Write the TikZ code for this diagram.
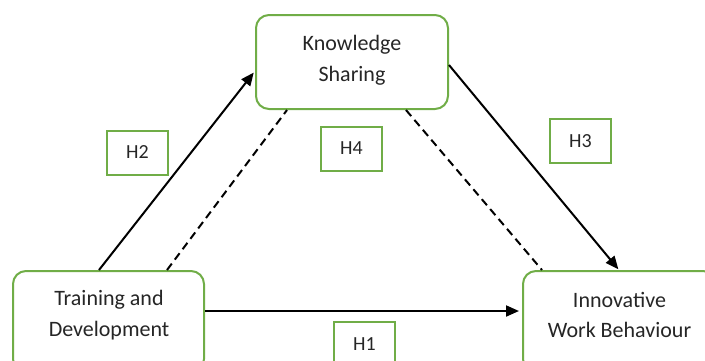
\documentclass[tikz,border=0pt]{standalone}
\usepackage{fontspec}
\setmainfont{Carlito}
\usetikzlibrary{arrows.meta}
\definecolor{boxgreen}{HTML}{70AD47}
\definecolor{txtgray}{HTML}{262626}
\begin{document}
\begin{tikzpicture}[x=1pt,y=-1pt,
  bigbox/.style={draw=boxgreen,line width=2pt,rounded corners=13pt,fill=white,inner sep=0pt},
  hbox/.style={draw=boxgreen,line width=2pt,minimum width=61pt,minimum height=44pt,inner sep=0pt,
    font=\fontsize{20}{24}\selectfont,text=txtgray},
  txt/.style={align=center,font=\fontsize{22}{30.5}\selectfont,text=txtgray,inner sep=0pt},
  arr/.style={line width=2pt,-{Triangle[length=13pt,width=11pt]}},
  dsh/.style={line width=2pt,dash pattern=on 8pt off 5pt}]
\useasboundingbox (0,0) rectangle (705,360);
\node[bigbox,minimum width=192pt,minimum height=94pt] (ks) at (352,62) {};
\node[txt] (kst) at (352,60) {Knowledge\\Sharing};
\node[bigbox,minimum width=191pt,minimum height=101pt] (td) at (108.5,321.5) {};
\node[txt] (tdt) at (109,315) {Training and\\Development};
\node[bigbox,minimum width=193pt,minimum height=101pt] (iwb) at (619.5,321.5) {};
\node[txt] (iwbt) at (619.5,315) {Innovative\\Work Behaviour};
\node[hbox] (h2) at (137.5,152.5) {H2};
\node[hbox] (h4) at (351.5,148.5) {H4};
\node[hbox] (h3) at (580.5,141) {H3};
\node[hbox] (h1) at (364.5,344) {H1};
\draw[arr,shorten >=2pt] ([xshift=87pt]td.north west) -- ([yshift=-9pt]ks.west);
\draw[dsh] ([xshift=155pt]td.north west) -- ([xshift=32pt]ks.south west);
\draw[dsh] ([xshift=151pt]ks.south west) -- ([xshift=20pt]iwb.north west);
\draw[arr,shorten >=1pt] ([yshift=-3pt]ks.east) -- ([xshift=97pt]iwb.north west);
\draw[arr,shorten >=3pt] ([yshift=10.5pt]td.east) -- ([yshift=10.5pt]iwb.west);
\end{tikzpicture}
\end{document}
